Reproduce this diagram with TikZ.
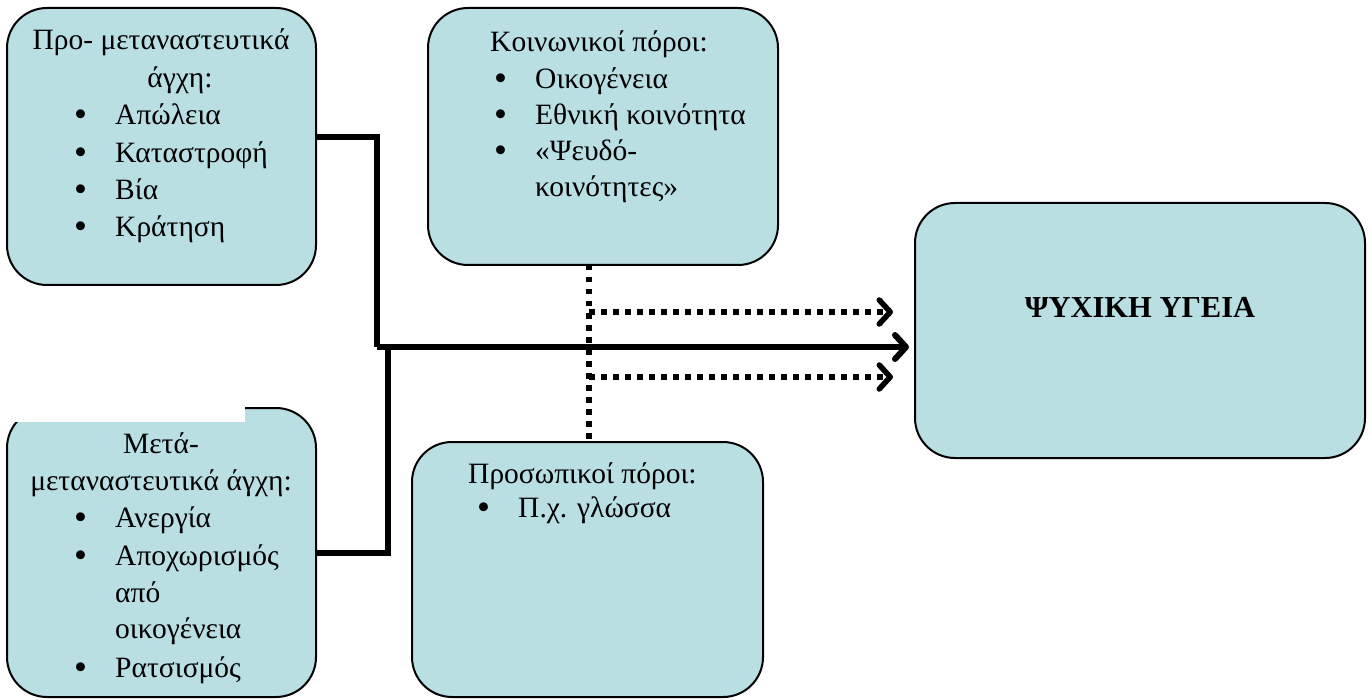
\documentclass[tikz,border=0pt]{standalone}
\usepackage{fontspec}
\setmainfont{Liberation Serif}
\usetikzlibrary{arrows.meta}
\definecolor{boxfill}{RGB}{185,223,227}
\begin{document}
\begin{tikzpicture}[x=1pt,y=-1pt,
  box/.style={draw=black,line width=2pt,fill=boxfill,rounded corners=40pt,inner sep=0pt},
  txt/.style={inner sep=0pt,font=\fontsize{29.5}{34}\selectfont},
  ttl/.style={inner sep=0pt,font=\fontsize{30.5}{34}\selectfont\bfseries},
  thickline/.style={line width=6pt,black},
  dotline/.style={line width=5.5pt,black,dash pattern=on 5.5pt off 6.5pt},
  barb/.style={-{Straight Barb[length=11pt,width=24pt,round]}}
]
\newcommand{\bul}{\makebox[41pt][l]{\smash{\raisebox{-2pt}{\fontsize{37}{37}\selectfont •}}}}
\useasboundingbox (0,0) rectangle (1372,700);
\fill[white] (0,0) rectangle (1372,700);

% boxes
\node[box,minimum width=309pt,minimum height=277pt] (b1) at (161.5,146.5) {};
\node[box,minimum width=309pt,minimum height=289pt] (b2) at (161.5,552.5) {};
\node[box,minimum width=350pt,minimum height=257pt] (b3) at (603,136.5) {};
\node[box,minimum width=351pt,minimum height=255pt] (b4) at (587.5,569.5) {};
\node[box,minimum width=450pt,minimum height=255pt] (b5) at (1140,330.5) {};
% white patch over top-left of box 2
\fill[white] (0,390) rectangle (245,422);

% box 1 text
\node[txt,anchor=base] (t1a) at (161,50) {Προ- μεταναστευτικά};
\node[txt,anchor=base] (t1b) at (180,88) {άγχη:};
\node[txt,anchor=base west] (t1c) at (74,125) {\bul Απώλεια};
\node[txt,anchor=base west] (t1d) at (74,163) {\bul Καταστροφή};
\node[txt,anchor=base west] (t1e) at (74,200) {\bul Βία};
\node[txt,anchor=base west] (t1f) at (74,237) {\bul Κράτηση};

% box 2 text
\node[txt,anchor=base] (t2a) at (161,453) {Μετά-};
\node[txt,anchor=base] (t2b) at (161,490) {μεταναστευτικά άγχη:};
\node[txt,anchor=base west] (t2c) at (74,527) {\bul Ανεργία};
\node[txt,anchor=base west] (t2d) at (74,565) {\bul Αποχωρισμός};
\node[txt,anchor=base west] (t2e) at (115,602) {από};
\node[txt,anchor=base west] (t2f) at (115,638) {οικογένεια};
\node[txt,anchor=base west] (t2g) at (74,677) {\bul Ρατσισμός};

% box 3 text
\node[txt,anchor=base west] (t3a) at (490,52) {Κοινωνικοί πόροι:};
\node[txt,anchor=base west] (t3b) at (494,89) {\bul Οικογένεια};
\node[txt,anchor=base west] (t3c) at (494,125) {\bul Εθνική κοινότητα};
\node[txt,anchor=base west] (t3d) at (494,161) {\bul «Ψευδό-};
\node[txt,anchor=base west] (t3e) at (535,197) {κοινότητες»};

% box 4 text
\node[txt,anchor=base west] (t4a) at (468,483) {Προσωπικοί πόροι:};
\node[txt,anchor=base west] (t4b) at (477,517) {\bul Π.χ. γλώσσα};

% box 5 text
\node[ttl,anchor=base] (t5) at (1140,317) {ΨΥΧΙΚΗ ΥΓΕΙΑ};

% connector points
\coordinate (j1) at (377,137);
\coordinate (h1) at (377,347);
\coordinate (k2) at (388,552.5);
\coordinate (h2) at (388,347);
\coordinate (d1) at (589,265);
\coordinate (d2) at (589,442);
\coordinate (e1) at (589,312);
\coordinate (e2) at (589,377);

% thick connectors
\draw[thickline] (b1.east |- j1) -- (j1) -- (h1);
\draw[thickline] (b2.east |- k2) -- (k2) -- (h2);
\draw[thickline,barb] (h1) -- ([xshift=-5pt]b5.west |- h1);

% dotted connectors
\draw[dotline] (d1) -- (d2);
\draw[dotline,barb] (e1) -- ([xshift=-21pt]b5.west |- e1);
\draw[dotline,barb] (e2) -- ([xshift=-21pt]b5.west |- e2);
\end{tikzpicture}
\end{document}
